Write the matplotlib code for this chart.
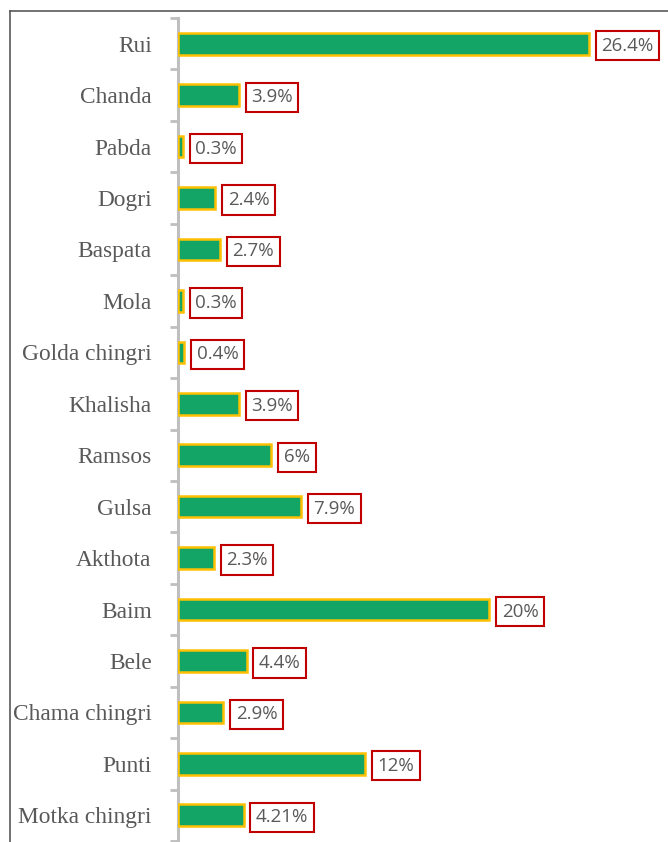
import numpy as np
import matplotlib
matplotlib.use("Agg")
import matplotlib.pyplot as plt
from matplotlib.lines import Line2D

# data
species = ["Rui", "Chanda", "Pabda", "Dogri", "Baspata", "Mola", "Golda chingri",
           "Khalisha", "Ramsos", "Gulsa", "Akthota", "Baim", "Bele",
           "Chama chingri", "Punti", "Motka chingri"]
share = [26.4, 3.9, 0.3, 2.4, 2.7, 0.3, 0.4, 3.9, 6, 7.9, 2.3, 20, 4.4, 2.9, 12, 4.21]
share_labels = ["26.4%", "3.9%", "0.3%", "2.4%", "2.7%", "0.3%", "0.4%", "3.9%",
                "6%", "7.9%", "2.3%", "20%", "4.4%", "2.9%", "12%", "4.21%"]

COLORS = {
    "bar": "#12A566",
    "edge": "#FFC000",
    "box": "#C00000",
    "text": "#595959",
    "axis": "#BFBFBF",
    "frame": "#595959",
}

W, H = 668, 842
fig = plt.figure(figsize=(W / 100, H / 100), dpi=100)

# axes placement (pixel based)
left_px, top_px, bottom_px = 178, 18, 841
xmax = 31.0
px_per_unit = 15.57
width_px = xmax * px_per_unit
ax = fig.add_axes([left_px / W, 1 - bottom_px / H, width_px / W, (bottom_px - top_px) / H])

y = np.arange(len(species))
ax.barh(y, share, height=0.42, color=COLORS["bar"], edgecolor=COLORS["edge"],
        linewidth=1.8, zorder=3)

for yi, val, lab in zip(y, share, share_labels):
    ax.annotate(lab, xy=(val, yi), xytext=(9, 0), textcoords="offset points",
                ha="left", va="center_baseline", fontsize=13.5, color=COLORS["text"],
                family=["Open Sans", "DejaVu Sans"],
                bbox=dict(boxstyle="square,pad=0.3", facecolor="white",
                          edgecolor=COLORS["box"], linewidth=1.5))

ax.set_xlim(0, xmax)
ax.set_ylim(len(species) - 0.5, -0.5)
ax.set_yticks(y)
ax.set_yticklabels(species, family=["Liberation Serif", "DejaVu Serif"],
                   fontsize=16.8, color=COLORS["text"])
ax.set_yticks(np.arange(len(species) + 1) - 0.5, minor=True)
ax.tick_params(axis="y", which="major", length=0, pad=19)
ax.tick_params(axis="y", which="minor", length=6, width=2, color=COLORS["axis"])
ax.set_xticks([])

for s in ["top", "right", "bottom"]:
    ax.spines[s].set_visible(False)
ax.spines["left"].set_color(COLORS["axis"])
ax.spines["left"].set_linewidth(2.2)

# outer frame (top and left edges)
fig.add_artist(Line2D([10 / W, 1], [1 - 11 / H, 1 - 11 / H], color=COLORS["frame"],
                      linewidth=1.2, transform=fig.transFigure))
fig.add_artist(Line2D([10 / W, 10 / W], [0, 1 - 11 / H], color=COLORS["frame"],
                      linewidth=1.2, transform=fig.transFigure))

fig.savefig("out.png", dpi=100)
